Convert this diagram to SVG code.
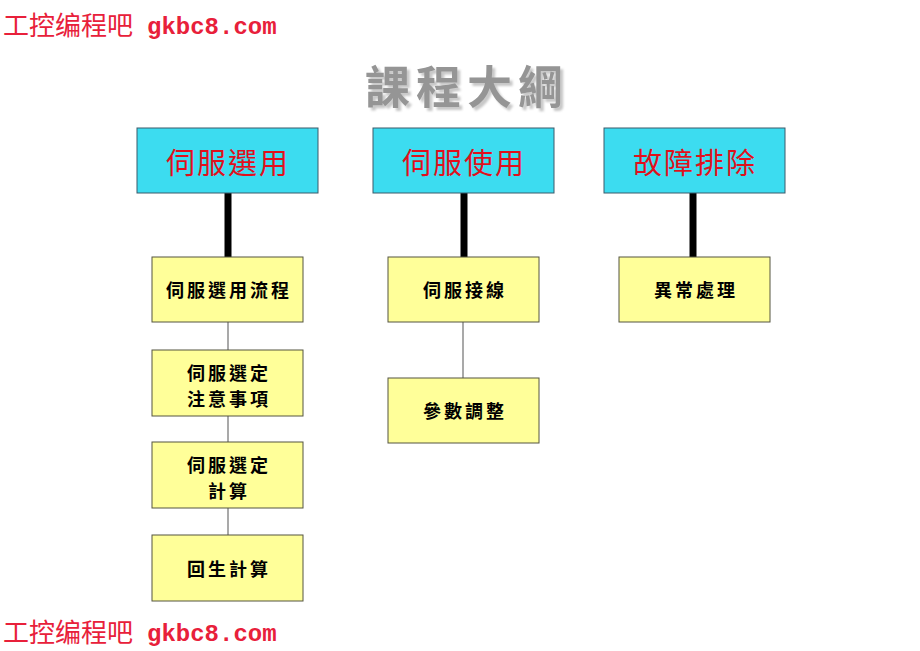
<svg xmlns="http://www.w3.org/2000/svg" width="920" height="651" viewBox="0 0 920 651">
<defs>
<filter id="sh" x="-10%" y="-20%" width="130%" height="150%">
<feDropShadow dx="3" dy="3" stdDeviation="0.8" flood-color="#c8c8c8" flood-opacity="1"/>
</filter>
<style>
.wm{font-family:"Noto Sans CJK SC","Liberation Sans",sans-serif;font-size:26px;fill:#e8203a;}
.wm2{font-family:"Liberation Mono",monospace;font-size:24px;font-weight:bold;fill:#e8203a;}
.title{font-family:"Noto Sans CJK TC","Liberation Sans",sans-serif;font-size:45px;font-weight:bold;fill:#959595;letter-spacing:6px;}
.top rect{fill:#3cdcf0;stroke:#3a5a6a;stroke-width:1;}
.top text{font-family:"Noto Sans CJK TC","Liberation Serif",serif;font-size:29px;fill:#e0101c;text-anchor:middle;letter-spacing:2px;}
.sub rect{fill:#ffff99;stroke:#555540;stroke-width:1;}
.sub text{font-family:"Noto Sans CJK TC","Liberation Sans",sans-serif;font-size:18px;font-weight:bold;fill:#000;text-anchor:middle;letter-spacing:3px;}
.thick{stroke:#000;stroke-width:7;}
.thin{stroke:#8c8c8c;stroke-width:1.5;}
</style>
</defs>
<rect width="920" height="651" fill="#fff"/>
<text class="wm" x="3" y="35">工控编程吧</text>
<text class="wm2" x="147" y="34">gkbc8.com</text>
<text class="wm" x="3" y="642">工控编程吧</text>
<text class="wm2" x="147" y="641">gkbc8.com</text>
<text class="title" x="467" y="104" text-anchor="middle" filter="url(#sh)">課程大綱</text>
<g id="connectors">
<line class="thick" x1="228" y1="193" x2="228" y2="257"/>
<line class="thick" x1="464" y1="193" x2="464" y2="257"/>
<line class="thick" x1="693" y1="193" x2="693" y2="257"/>
<line class="thin" x1="228" y1="322" x2="228" y2="350"/>
<line class="thin" x1="228" y1="416" x2="228" y2="442"/>
<line class="thin" x1="228" y1="508" x2="228" y2="535"/>
<line class="thin" x1="463" y1="322" x2="463" y2="378"/>
</g>
<g id="n1" class="top"><rect x="137" y="128" width="181" height="65"/><text x="228" y="174">伺服選用</text></g>
<g id="n2" class="top"><rect x="373" y="128" width="181" height="65"/><text x="464" y="174">伺服使用</text></g>
<g id="n3" class="top"><rect x="604" y="128" width="181" height="65"/><text x="695" y="174">故障排除</text></g>
<g id="n4" class="sub"><rect x="152" y="257" width="151" height="65"/><text x="229" y="297">伺服選用流程</text></g>
<g id="n5" class="sub"><rect x="152" y="350" width="151" height="66"/><text x="229" y="380">伺服選定</text><text x="229" y="406">注意事項</text></g>
<g id="n6" class="sub"><rect x="152" y="442" width="151" height="66"/><text x="229" y="472">伺服選定</text><text x="229" y="498">計算</text></g>
<g id="n7" class="sub"><rect x="152" y="535" width="151" height="66"/><text x="229" y="576">回生計算</text></g>
<g id="n8" class="sub"><rect x="388" y="257" width="151" height="65"/><text x="465" y="297">伺服接線</text></g>
<g id="n9" class="sub"><rect x="388" y="378" width="151" height="65"/><text x="465" y="418">參數調整</text></g>
<g id="n10" class="sub"><rect x="619" y="257" width="151" height="65"/><text x="696" y="297">異常處理</text></g>
</svg>
